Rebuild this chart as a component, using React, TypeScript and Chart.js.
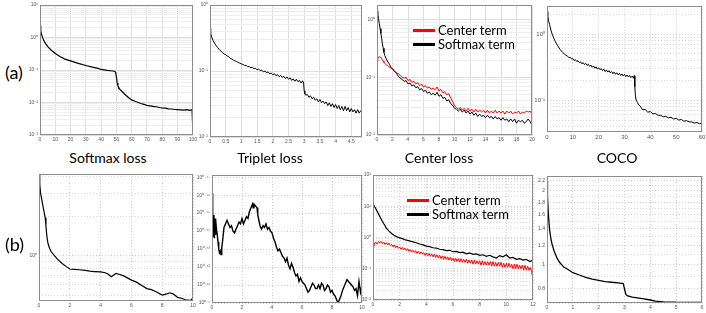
import React, { useEffect, useRef } from 'react';
import { Chart, registerables } from 'chart.js';
Chart.register(...registerables);

// ---------------- DATA ----------------
type Pt = [number, number];

// (a) Softmax loss: epoch vs loss
const a1Softmax: Pt[] = [[0,2.3],[0.5,1.6],[1,1.25],[2,0.92],[3,0.72],[5,0.53],[7,0.42],[10,0.32],[13,0.26],[16,0.22],[20,0.19],[25,0.16],[30,0.138],[35,0.12],[38,0.112],[40,0.104],[42,0.101],[44,0.097],[46,0.095],[48,0.093],[49,0.09],[49.5,0.085],[50,0.06],[50.5,0.04],[51,0.033],[52,0.026],[54,0.021],[56,0.017],[58,0.014],[60,0.012],[63,0.0105],[66,0.0093],[68,0.0088],[70,0.0082],[72,0.0079],[74,0.0076],[76,0.0074],[78,0.007],[80,0.0068],[82,0.0067],[84,0.0064],[86,0.0063],[88,0.0061],[90,0.006],[92,0.0059],[94,0.0058],[96,0.006],[98,0.0057],[99.5,0.006],[99.8,0.0035],[100,0.0018]];

// (a) Triplet loss
const a2Triplet: Pt[] = [[0,0.45],[0.02,0.38],[0.05,0.33],[0.1,0.29],[0.15,0.26],[0.2,0.24],[0.25,0.225],[0.3,0.21],[0.35,0.2],[0.4,0.19],[0.45,0.18],[0.5,0.178],[0.55,0.168],[0.6,0.165],[0.65,0.155],[0.7,0.152],[0.75,0.146],[0.8,0.142],[0.85,0.139],[0.9,0.134],[0.95,0.132],[1.0,0.128],[1.05,0.126],[1.1,0.121],[1.15,0.122],[1.2,0.116],[1.25,0.117],[1.3,0.112],[1.35,0.114],[1.4,0.108],[1.45,0.11],[1.5,0.104],[1.55,0.107],[1.6,0.101],[1.65,0.103],[1.7,0.097],[1.75,0.1],[1.8,0.094],[1.85,0.097],[1.9,0.091],[1.95,0.093],[2.0,0.088],[2.05,0.091],[2.1,0.085],[2.15,0.088],[2.2,0.082],[2.25,0.086],[2.3,0.08],[2.35,0.083],[2.4,0.077],[2.45,0.081],[2.5,0.075],[2.55,0.079],[2.6,0.072],[2.65,0.076],[2.7,0.07],[2.75,0.075],[2.8,0.069],[2.85,0.072],[2.9,0.066],[2.95,0.071],[2.98,0.066],[3.0,0.05],[3.02,0.045],[3.05,0.043],[3.1,0.044],[3.15,0.04],[3.2,0.042],[3.25,0.038],[3.3,0.04],[3.35,0.036],[3.4,0.038],[3.45,0.034],[3.5,0.037],[3.55,0.033],[3.6,0.035],[3.65,0.032],[3.7,0.034],[3.75,0.03],[3.8,0.033],[3.85,0.029],[3.9,0.032],[3.95,0.028],[4.0,0.031],[4.05,0.027],[4.1,0.03],[4.15,0.026],[4.2,0.029],[4.25,0.025],[4.3,0.029],[4.35,0.025],[4.4,0.028],[4.45,0.024],[4.5,0.027],[4.55,0.024],[4.6,0.026],[4.65,0.023],[4.7,0.026],[4.75,0.023],[4.8,0.025],[4.84,0.024]];

// (a) Center loss: two terms
const a3Softmax: Pt[] = [[0,1.4],[0.1,1.25],[0.2,1.05],[0.3,0.85],[0.4,0.7],[0.5,0.58],[0.6,0.47],[0.7,0.38],[0.8,0.32],[0.9,0.27],[1.0,0.24],[1.2,0.21],[1.4,0.185],[1.6,0.17],[1.8,0.15],[2.0,0.14],[2.25,0.128],[2.5,0.118],[2.75,0.105],[3.0,0.097],[3.25,0.092],[3.5,0.085],[3.75,0.088],[4.0,0.077],[4.25,0.08],[4.5,0.071],[4.75,0.074],[5.0,0.066],[5.25,0.069],[5.5,0.061],[5.75,0.064],[6.0,0.057],[6.25,0.06],[6.5,0.053],[6.75,0.056],[7.0,0.05],[7.25,0.053],[7.5,0.049],[7.75,0.055],[8.0,0.047],[8.25,0.05],[8.5,0.043],[8.75,0.045],[9.0,0.039],[9.25,0.041],[9.5,0.035],[9.75,0.033],[10.0,0.029],[10.25,0.028],[10.5,0.026],[10.75,0.028],[11.0,0.025],[11.25,0.027],[11.5,0.024],[11.75,0.026],[12.0,0.023],[12.25,0.025],[12.5,0.022],[12.75,0.024],[13.0,0.021],[13.25,0.023],[13.5,0.021],[13.75,0.022],[14.0,0.02],[14.25,0.022],[14.5,0.02],[14.75,0.021],[15.0,0.019],[15.25,0.021],[15.5,0.019],[15.75,0.02],[16.0,0.018],[16.25,0.02],[16.5,0.018],[16.75,0.019],[17.0,0.017],[17.25,0.019],[17.5,0.017],[17.75,0.019],[18.0,0.016],[18.25,0.018],[18.5,0.017],[18.75,0.018],[19.0,0.016],[19.25,0.017],[19.5,0.019],[19.75,0.017],[20.0,0.015]];
const a3Center: Pt[] = [[0,0.19],[0.1,0.21],[0.2,0.225],[0.3,0.23],[0.4,0.225],[0.5,0.22],[0.6,0.21],[0.7,0.2],[0.8,0.19],[0.9,0.18],[1.0,0.175],[1.2,0.165],[1.4,0.16],[1.6,0.15],[1.8,0.145],[2.0,0.14],[2.25,0.13],[2.5,0.12],[2.75,0.115],[3.0,0.108],[3.25,0.1],[3.5,0.097],[3.75,0.1],[4.0,0.088],[4.25,0.092],[4.5,0.082],[4.75,0.086],[5.0,0.077],[5.25,0.081],[5.5,0.072],[5.75,0.076],[6.0,0.068],[6.25,0.072],[6.5,0.065],[6.75,0.068],[7.0,0.062],[7.25,0.065],[7.5,0.061],[7.75,0.068],[8.0,0.058],[8.25,0.062],[8.5,0.054],[8.75,0.056],[9.0,0.05],[9.25,0.052],[9.5,0.044],[9.75,0.038],[10.0,0.032],[10.25,0.03],[10.5,0.028],[10.75,0.03],[11.0,0.027],[11.25,0.029],[11.5,0.026],[11.75,0.029],[12.0,0.026],[12.25,0.028],[12.5,0.025],[12.75,0.028],[13.0,0.025],[13.25,0.027],[13.5,0.025],[13.75,0.027],[14.0,0.024],[14.25,0.027],[14.5,0.024],[14.75,0.026],[15.0,0.024],[15.25,0.027],[15.5,0.024],[15.75,0.026],[16.0,0.024],[16.25,0.026],[16.5,0.023],[16.75,0.026],[17.0,0.024],[17.25,0.026],[17.5,0.023],[17.75,0.025],[18.0,0.024],[18.25,0.026],[18.5,0.023],[18.75,0.025],[19.0,0.024],[19.25,0.026],[19.5,0.025],[19.75,0.026],[20.0,0.023]];

// (a) COCO
const a4Coco: Pt[] = [[0,2.2],[0.3,1.9],[0.6,1.6],[1,1.4],[1.5,1.15],[2,1.0],[3,0.8],[4,0.68],[5,0.59],[6,0.53],[7,0.49],[8,0.46],[8.5,0.44],[9,0.445],[9.5,0.42],[10,0.425],[10.5,0.4],[11,0.41],[11.5,0.385],[12,0.395],[12.5,0.37],[13,0.38],[13.5,0.355],[14,0.37],[14.5,0.345],[15,0.36],[15.5,0.335],[16,0.35],[16.5,0.325],[17,0.34],[17.5,0.315],[18,0.33],[18.5,0.305],[19,0.32],[19.5,0.295],[20,0.31],[20.5,0.29],[21,0.3],[21.5,0.28],[22,0.295],[22.5,0.272],[23,0.287],[23.5,0.266],[24,0.28],[24.5,0.26],[25,0.272],[25.5,0.252],[26,0.266],[26.5,0.247],[27,0.26],[27.5,0.242],[28,0.255],[28.5,0.237],[29,0.25],[29.5,0.233],[30,0.245],[30.5,0.228],[31,0.24],[31.5,0.224],[32,0.236],[32.5,0.22],[33,0.232],[33.5,0.215],[33.8,0.235],[34,0.16],[34.2,0.12],[34.5,0.1],[35,0.092],[35.5,0.085],[36,0.082],[37,0.072],[38,0.072],[39,0.066],[40,0.067],[41,0.062],[42,0.063],[43,0.059],[44,0.059],[45,0.056],[46,0.057],[47,0.054],[48,0.055],[49,0.052],[50,0.053],[51,0.05],[52,0.051],[53,0.048],[54,0.049],[55,0.047],[56,0.047],[57,0.045],[58,0.046],[59,0.044],[60,0.045]];

// (b) Softmax loss
const b1Softmax: Pt[] = [[0,4.2],[0.05,3.5],[0.1,3.0],[0.2,2.6],[0.3,2.25],[0.4,1.95],[0.45,1.7],[0.5,1.45],[0.55,1.3],[0.6,1.22],[0.7,1.13],[0.8,1.07],[1.0,1.0],[1.2,0.94],[1.5,0.87],[1.8,0.82],[2.0,0.79],[2.3,0.785],[2.6,0.78],[3.0,0.77],[3.3,0.76],[3.6,0.755],[4.0,0.75],[4.3,0.74],[4.5,0.72],[4.7,0.69],[4.85,0.71],[5.0,0.73],[5.2,0.72],[5.5,0.7],[5.8,0.67],[6.0,0.65],[6.3,0.63],[6.6,0.6],[7.0,0.56],[7.3,0.55],[7.6,0.53],[8.0,0.5],[8.3,0.51],[8.5,0.52],[8.7,0.51],[9.0,0.48],[9.3,0.47],[9.5,0.46],[9.8,0.455],[9.9,0.46],[10,0.48]];

// (b) Triplet loss (log10 of loss)
const b2TripletLog10: Pt[] = [[0,0.461],[0.03,0.444],[0.06,0.452],[0.1,0.437],[0.13,0.449],[0.16,0.436],[0.2,0.447],[0.23,0.438],[0.26,0.446],[0.3,0.441],[0.35,0.438],[0.4,0.434],[0.45,0.43],[0.5,0.428],[0.55,0.429],[0.6,0.427],[0.65,0.431],[0.7,0.434],[0.75,0.438],[0.8,0.442],[0.9,0.444],[1.0,0.446],[1.1,0.444],[1.2,0.442],[1.3,0.443],[1.4,0.44],[1.5,0.439],[1.6,0.441],[1.7,0.443],[1.8,0.445],[1.9,0.444],[2.0,0.447],[2.1,0.444],[2.2,0.446],[2.3,0.448],[2.4,0.447],[2.5,0.451],[2.6,0.453],[2.7,0.455],[2.75,0.453],[2.8,0.455],[2.9,0.454],[3.0,0.453],[3.05,0.449],[3.1,0.447],[3.2,0.443],[3.3,0.441],[3.4,0.443],[3.5,0.442],[3.6,0.444],[3.7,0.441],[3.8,0.442],[3.9,0.44],[4.0,0.439],[4.1,0.436],[4.2,0.434],[4.3,0.431],[4.4,0.429],[4.5,0.43],[4.6,0.428],[4.7,0.426],[4.8,0.425],[4.9,0.423],[5.0,0.425],[5.1,0.421],[5.2,0.419],[5.3,0.422],[5.4,0.42],[5.5,0.417],[5.6,0.415],[5.7,0.416],[5.8,0.412],[5.9,0.414],[6.0,0.412],[6.1,0.411],[6.2,0.41],[6.3,0.408],[6.4,0.406],[6.5,0.407],[6.6,0.409],[6.7,0.411],[6.8,0.41],[6.9,0.408],[7.0,0.408],[7.1,0.41],[7.2,0.408],[7.3,0.411],[7.4,0.41],[7.5,0.407],[7.6,0.408],[7.7,0.41],[7.8,0.409],[7.9,0.406],[8.0,0.407],[8.1,0.405],[8.2,0.404],[8.3,0.402],[8.4,0.4],[8.5,0.402],[8.6,0.404],[8.7,0.407],[8.8,0.409],[8.9,0.411],[9.0,0.413],[9.1,0.412],[9.2,0.411],[9.3,0.41],[9.4,0.409],[9.5,0.407],[9.6,0.408],[9.7,0.404],[9.8,0.412],[9.9,0.406],[10,0.41]];

// (b) Center loss
const b3Softmax: Pt[] = [[0,12],[0.1,10],[0.2,8.5],[0.3,7],[0.4,5.8],[0.5,4.8],[0.6,4],[0.7,3.3],[0.8,2.8],[0.9,2.4],[1.0,2.0],[1.2,1.6],[1.4,1.35],[1.6,1.15],[1.8,1.05],[2.0,0.97],[2.25,0.9],[2.5,0.82],[2.75,0.78],[3.0,0.72],[3.25,0.68],[3.5,0.62],[3.75,0.58],[4.0,0.53],[4.25,0.51],[4.5,0.47],[4.75,0.46],[5.0,0.42],[5.25,0.41],[5.5,0.38],[5.75,0.39],[6.0,0.35],[6.25,0.36],[6.5,0.33],[6.75,0.34],[7.0,0.3],[7.25,0.32],[7.5,0.29],[7.75,0.3],[8.0,0.27],[8.25,0.28],[8.5,0.25],[8.75,0.27],[9.0,0.24],[9.25,0.22],[9.5,0.26],[9.75,0.24],[10.0,0.28],[10.25,0.22],[10.5,0.23],[10.75,0.2],[11.0,0.21],[11.25,0.19],[11.5,0.2],[11.75,0.17],[12.0,0.19]];
const b3Center: Pt[] = [[0,1.8],[0.02,0.2],[0.05,0.45],[0.1,0.62],[0.2,0.7],[0.3,0.62],[0.4,0.74],[0.5,0.66],[0.6,0.75],[0.7,0.64],[0.8,0.72],[0.9,0.6],[1.0,0.68],[1.1,0.57],[1.2,0.66],[1.3,0.55],[1.4,0.6],[1.5,0.5],[1.6,0.58],[1.7,0.47],[1.8,0.54],[1.9,0.45],[2.0,0.5],[2.1,0.42],[2.2,0.48],[2.3,0.4],[2.4,0.46],[2.5,0.38],[2.6,0.44],[2.7,0.36],[2.8,0.41],[2.9,0.34],[3.0,0.39],[3.1,0.33],[3.2,0.38],[3.3,0.31],[3.4,0.36],[3.5,0.3],[3.6,0.35],[3.7,0.29],[3.8,0.33],[3.9,0.27],[4.0,0.32],[4.1,0.26],[4.2,0.31],[4.3,0.25],[4.4,0.3],[4.5,0.24],[4.6,0.29],[4.7,0.23],[4.8,0.28],[4.9,0.22],[5.0,0.27],[5.1,0.21],[5.2,0.26],[5.3,0.2],[5.4,0.25],[5.5,0.2],[5.6,0.24],[5.7,0.19],[5.8,0.23],[5.9,0.18],[6.0,0.22],[6.1,0.17],[6.2,0.22],[6.3,0.17],[6.4,0.21],[6.5,0.16],[6.6,0.21],[6.7,0.16],[6.8,0.2],[6.9,0.16],[7.0,0.2],[7.1,0.15],[7.2,0.19],[7.3,0.15],[7.4,0.19],[7.5,0.14],[7.6,0.19],[7.7,0.14],[7.8,0.18],[7.9,0.14],[8.0,0.18],[8.1,0.13],[8.2,0.18],[8.3,0.13],[8.4,0.17],[8.5,0.13],[8.6,0.17],[8.7,0.13],[8.8,0.17],[8.9,0.12],[9.0,0.17],[9.1,0.12],[9.2,0.16],[9.3,0.12],[9.4,0.16],[9.5,0.12],[9.6,0.16],[9.7,0.11],[9.8,0.15],[9.9,0.11],[10.0,0.15],[10.1,0.11],[10.2,0.15],[10.3,0.11],[10.4,0.14],[10.5,0.1],[10.6,0.14],[10.7,0.1],[10.8,0.14],[10.9,0.1],[11.0,0.13],[11.1,0.1],[11.2,0.13],[11.3,0.09],[11.4,0.13],[11.5,0.09],[11.6,0.12],[11.7,0.09],[11.8,0.11],[11.9,0.08],[11.95,0.06],[12.0,0.05]];

// (b) COCO
const b4Coco: Pt[] = [[0,2.2],[0.02,1.9],[0.05,1.62],[0.1,1.39],[0.15,1.28],[0.2,1.21],[0.3,1.12],[0.4,1.06],[0.5,1.02],[0.65,0.98],[0.8,0.96],[1.0,0.93],[1.25,0.91],[1.5,0.89],[1.75,0.875],[2.0,0.865],[2.25,0.855],[2.5,0.85],[2.75,0.845],[2.95,0.84],[3.0,0.8],[3.05,0.76],[3.1,0.75],[3.3,0.74],[3.5,0.735],[3.75,0.727],[4.0,0.72],[4.2,0.712],[4.5,0.708],[5,0.705],[5.5,0.704],[6,0.704]];

// Tick values / labels
const a1XTicks = [0,10,20,30,40,50,60,70,80,90,100];
const a2XTicks = [0,0.5,1,1.5,2,2.5,3,3.5,4,4.5];
const a3XTicks = [0,2,4,6,8,10,12,14,16,18,20];
const a4XTicks = [0,10,20,30,40,50,60];
const b1XTicks = [0,2,4,6,8,10];
const b2XTicks = [0,2,4,6,8,10];
const b3XTicks = [0,2,4,6,8,10,12];
const b4XTicks = [0,1,2,3,4,5,6];
const b2TickExponents = ['0.4','0.41','0.42','0.43','0.44','0.45','0.46','0.47'];
const b4YLabels = [0.8,1,1.2,1.4,1.6,1.8,2,2.2];
const b4YGrid = [0.7,0.8,0.9,1,1.1,1.2,1.3,1.4,1.5,1.6,1.7,1.8,1.9,2,2.1,2.2,2.3];
const b1YGrid = [0.5,0.6,0.7,0.8,0.9,1,2,3,4];

const panelTitles = ['Softmax loss','Triplet loss','Center loss','COCO'];
const legendNames = ['Center term','Softmax term'];

// ---------------- HELPERS ----------------
const SUP: Record<string, string> = {'0':'⁰','1':'¹','2':'²','3':'³','4':'⁴','5':'⁵','6':'⁶','7':'⁷','8':'⁸','9':'⁹','-':'⁻','.':'·'};
const pow10 = (e: string) => '10' + e.split('').map(c => SUP[c] ?? c).join('');

function logGrid(min: number, max: number): number[] {
  const out: number[] = [];
  for (let e = Math.floor(Math.log10(min)); e <= Math.ceil(Math.log10(max)); e++) {
    for (let k = 1; k <= 9; k++) {
      const v = k * Math.pow(10, e);
      if (v >= min * (1 - 1e-9) && v <= max * (1 + 1e-9)) out.push(v);
    }
  }
  return out;
}
function decadeLabels(min: number, max: number): [number, string][] {
  const out: [number, string][] = [];
  for (let e = Math.ceil(Math.log10(min) - 1e-9); e <= Math.floor(Math.log10(max) + 1e-9); e++) out.push([Math.pow(10, e), pow10(String(e))]);
  return out;
}

type Series = { pts: Pt[]; color: string; width?: number; logY?: boolean };
type PanelCfg = {
  L: number; T: number; R: number; B: number;
  series: Series[];
  xMin: number; xMax: number; xTicks: number[];
  yMin: number; yMax: number; yGrid: number[]; yLabels: [number, string][];
  dash: number[]; font?: number; axisW?: number;
};

const framePlugin = {
  id: 'frame',
  afterDraw(chart: any) {
    const { ctx, chartArea: a } = chart;
    ctx.save();
    ctx.strokeStyle = '#8c8c8c';
    ctx.lineWidth = 1;
    ctx.strokeRect(Math.round(a.left) + 0.5, Math.round(a.top) + 0.5, Math.round(a.right - a.left) - 1, Math.round(a.bottom - a.top) - 1);
    ctx.restore();
  },
};

function Panel({ cfg }: { cfg: PanelCfg }) {
  const ref = useRef<HTMLCanvasElement>(null);
  const padL = cfg.axisW ?? 16, padT = 4, padR = 6, padB = 10;
  const w = cfg.R - cfg.L + padL + padR;
  const h = cfg.B - cfg.T + padT + padB;
  useEffect(() => {
    const fs = cfg.font ?? 5;
    const isSolid = cfg.dash.length === 0;
    const majorC = isSolid ? '#dedede' : '#cfcfcf';
    const minorC = isSolid ? '#eeeeee' : '#dadada';
    const chart = new Chart(ref.current!, {
      type: 'line',
      data: {
        datasets: cfg.series.map(s => ({
          data: s.pts.map(([x, y]) => ({ x, y: s.logY ? Math.pow(10, y) : y })),
          borderColor: s.color,
          borderWidth: s.width ?? 1.2,
          pointRadius: 0,
          tension: 0,
          fill: false,
        })),
      },
      options: {
        animation: false,
        responsive: false,
        devicePixelRatio: 1,
        layout: { padding: { left: 0, top: padT, right: padR, bottom: 0 }, autoPadding: false },
        plugins: { legend: { display: false }, tooltip: { enabled: false } },
        scales: {
          x: {
            type: 'linear',
            min: cfg.xMin,
            max: cfg.xMax,
            afterBuildTicks: (s: any) => { s.ticks = cfg.xTicks.map(v => ({ value: v })); },
            afterFit: (s: any) => { s.height = padB; },
            grid: { color: majorC, lineWidth: 1, drawTicks: false },
            border: { display: false, dash: cfg.dash },
            ticks: {
              autoSkip: false, maxRotation: 0, padding: 2, color: '#555',
              font: { size: fs, family: 'Liberation Sans' },
              callback: (v: any) => String(v),
            },
          },
          y: {
            type: 'logarithmic',
            min: cfg.yMin,
            max: cfg.yMax,
            afterBuildTicks: (s: any) => { s.ticks = cfg.yGrid.map(v => ({ value: v })); },
            afterFit: (s: any) => { s.width = padL; },
            grid: {
              color: (c: any) => cfg.yLabels.some(([v]) => Math.abs(v - c.tick?.value) < v * 1e-6) ? majorC : minorC,
              lineWidth: 1, drawTicks: false,
            },
            border: { display: false, dash: cfg.dash },
            ticks: {
              autoSkip: false, padding: 2, color: '#555',
              font: { size: fs, family: 'Liberation Sans' },
              callback: (v: any) => {
                const f = cfg.yLabels.find(([lv]) => Math.abs(lv - v) < lv * 1e-6);
                return f ? f[1] : '';
              },
            },
          },
        },
      } as any,
      plugins: [framePlugin],
    });
    return () => chart.destroy();
  }, []);
  return (
    <canvas ref={ref} width={w} height={h}
      style={{ position: 'absolute', left: cfg.L - padL, top: cfg.T - padT, width: w, height: h }} />
  );
}

const K = '#000000', RED = '#ff0000';
const solid: number[] = [];
const dotted = [1, 2];

const panels: PanelCfg[] = [
  { L: 40, T: 4, R: 193, B: 135, series: [{ pts: a1Softmax, color: K }], xMin: 0, xMax: 100, xTicks: a1XTicks,
    yMin: 1e-3, yMax: 10, yGrid: logGrid(1e-3, 10), yLabels: decadeLabels(1e-3, 10), dash: solid },
  { L: 210, T: 4, R: 362, B: 137, series: [{ pts: a2Triplet, color: K, width: 1 }], xMin: 0, xMax: 4.84, xTicks: a2XTicks,
    yMin: 1e-2, yMax: 1, yGrid: logGrid(1e-2, 1), yLabels: decadeLabels(1e-2, 1), dash: solid },
  { L: 377, T: 4, R: 532, B: 135, series: [{ pts: a3Softmax, color: K, width: 1 }, { pts: a3Center, color: RED, width: 1 }], xMin: 0, xMax: 20, xTicks: a3XTicks,
    yMin: 1e-2, yMax: 1.8, yGrid: logGrid(1e-2, 1.8), yLabels: decadeLabels(1e-2, 1.8), dash: solid },
  { L: 547, T: 4, R: 702, B: 132, series: [{ pts: a4Coco, color: K, width: 1 }], xMin: 0, xMax: 60, xTicks: a4XTicks,
    yMin: 0.033, yMax: 2.7, yGrid: logGrid(0.033, 2.7), yLabels: decadeLabels(0.033, 2.7), dash: dotted, font: 6, axisW: 18 },
  { L: 39, T: 173, R: 193, B: 301, series: [{ pts: b1Softmax, color: K }], xMin: 0, xMax: 10, xTicks: b1XTicks,
    yMin: 0.45, yMax: 4.2, yGrid: b1YGrid, yLabels: [[1, pow10('0')]], dash: dotted },
  { L: 212, T: 174, R: 362, B: 303, series: [{ pts: b2TripletLog10, color: K, width: 1.4, logY: true }], xMin: 0, xMax: 10, xTicks: b2XTicks,
    yMin: Math.pow(10, 0.4), yMax: Math.pow(10, 0.4712), yGrid: b2TickExponents.map(e => Math.pow(10, parseFloat(e))),
    yLabels: b2TickExponents.map(e => [Math.pow(10, parseFloat(e)), pow10(e)] as [number, string]), dash: dotted, axisW: 18 },
  { L: 373, T: 174, R: 533, B: 300, series: [{ pts: b3Softmax, color: K }, { pts: b3Center, color: RED, width: 1 }], xMin: 0, xMax: 12, xTicks: b3XTicks,
    yMin: 0.01, yMax: 100, yGrid: logGrid(0.01, 100), yLabels: decadeLabels(0.01, 100), dash: dotted },
  { L: 547, T: 175, R: 702, B: 303, series: [{ pts: b4Coco, color: K, width: 1.3 }], xMin: 0, xMax: 6, xTicks: b4XTicks,
    yMin: 0.7, yMax: 2.3, yGrid: b4YGrid, yLabels: b4YLabels.map(v => [v, String(v)] as [number, string]), dash: dotted },
];

const FONT = 'Lato, "Open Sans", sans-serif';
const titleX = [108, 270, 439, 617];

function Legend({ left, top }: { left: number; top: number }) {
  return (
    <>
      {legendNames.map((n, i) => (
        <React.Fragment key={n}>
          <div style={{ position: 'absolute', left, top: top + i * 14 - 1, width: 22, height: 3, background: i === 0 ? RED : K }} />
          <div style={{ position: 'absolute', left: left + 25, top: top + i * 14 - 8, fontFamily: FONT, fontSize: 13, lineHeight: '16px', color: '#000', whiteSpace: 'nowrap' }}>{n}</div>
        </React.Fragment>
      ))}
    </>
  );
}

export default function App() {
  return (
    <div style={{ position: 'fixed', left: 0, top: 0, width: 706, height: 313, background: '#fff', overflow: 'hidden' }}>
      {panels.map((p, i) => <Panel key={i} cfg={p} />)}
      {panelTitles.map((t, i) => (
        <div key={t} style={{ position: 'absolute', left: titleX[i], top: 149, transform: 'translateX(-50%)', fontFamily: FONT, fontSize: 14, lineHeight: '18px', whiteSpace: 'nowrap', color: '#000' }}>{t}</div>
      ))}
      <div style={{ position: 'absolute', left: 5, top: 61, fontFamily: FONT, fontSize: 18, lineHeight: '22px' }}>(a)</div>
      <div style={{ position: 'absolute', left: 5, top: 233, fontFamily: FONT, fontSize: 18, lineHeight: '22px' }}>(b)</div>
      <Legend left={413} top={30} />
      <Legend left={407} top={200} />
    </div>
  );
}
